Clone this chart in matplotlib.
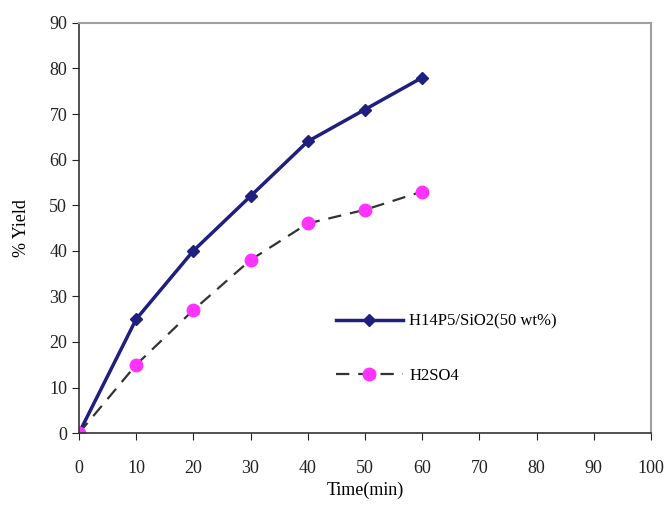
import matplotlib.pyplot as plt

# data
time_min = [0, 10, 20, 30, 40, 50, 60]
yield_h14p5 = [0, 25, 40, 52, 64, 71, 78]
yield_h2so4 = [0, 15, 27, 38, 46, 49, 53]

label_h14p5 = "H14P5/SiO2(50 wt%)"
label_h2so4 = "H2SO4"

plt.rcParams['font.family'] = ['Liberation Serif', 'DejaVu Serif']

fig = plt.figure(figsize=(6.69, 5.09), dpi=100)
ax = fig.add_axes([0.118, 0.149, 0.855, 0.806])

ax.plot(time_min, yield_h14p5, color='#1f1f7f', linewidth=2.5,
        marker='D', markersize=6.5, label=label_h14p5)
ax.plot(time_min, yield_h2so4, color='#333333', linewidth=1.6,
        linestyle=(0, (6, 4)), marker='o', markersize=9,
        markerfacecolor='#ff33ff', markeredgecolor='#ff33ff', label=label_h2so4)

ax.set_xlim(0, 100)
ax.set_ylim(0, 90)
ax.set_xticks(range(0, 101, 10))
ax.set_yticks(range(0, 91, 10))
ax.tick_params(direction='out', length=5, labelsize=13, colors='#222222')
ax.tick_params(axis='x', pad=14)

for side in ['top', 'right']:
    ax.spines[side].set_color('#a0a0a0')
    ax.spines[side].set_linewidth(1.5)
for side in ['left', 'bottom']:
    ax.spines[side].set_color('#333333')
    ax.spines[side].set_linewidth(1.2)

ax.set_xlabel("Time(min)", fontsize=13, labelpad=4)
ax.set_ylabel("% Yield", fontsize=13, labelpad=14)

ax.legend(loc='upper left', bbox_to_anchor=(0.49, 0.40),
          bbox_transform=fig.transFigure, frameon=False, fontsize=12,
          handlelength=4.0, handletextpad=0.4, labelspacing=2.3,
          borderpad=0)

fig.savefig("out.png", dpi=100)
